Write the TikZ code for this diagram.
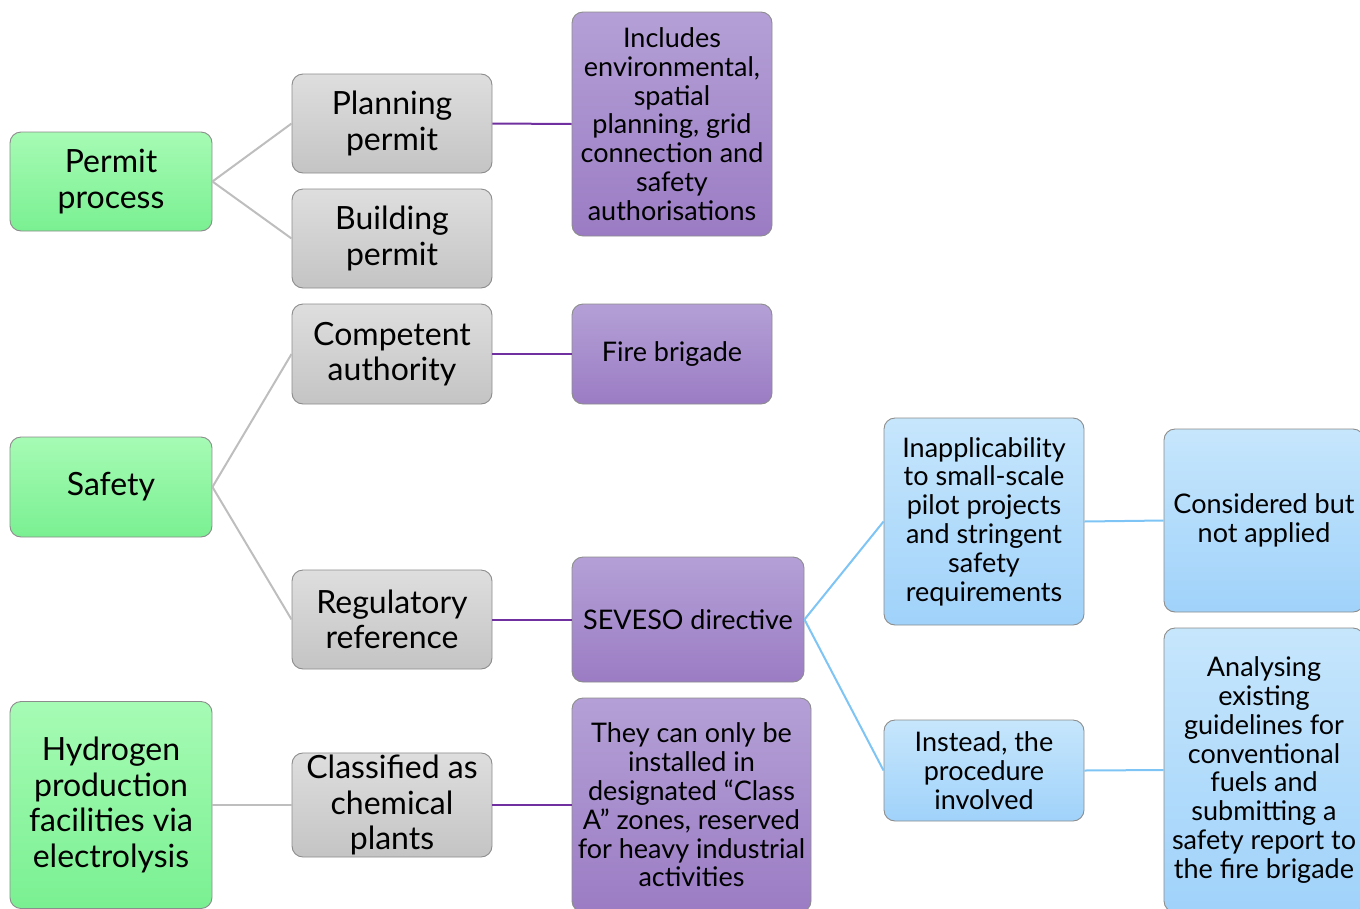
\documentclass[tikz,border=0pt]{standalone}
\usepackage{fontspec}
\setmainfont{Lato}
\definecolor{grnT}{RGB}{166,251,180}
\definecolor{grnB}{RGB}{122,240,146}
\definecolor{gryT}{RGB}{222,222,222}
\definecolor{gryB}{RGB}{196,196,196}
\definecolor{purT}{RGB}{180,160,214}
\definecolor{purB}{RGB}{155,124,196}
\definecolor{bluT}{RGB}{198,230,252}
\definecolor{bluB}{RGB}{160,210,250}
\definecolor{edge}{RGB}{140,140,140}
\definecolor{lnGray}{RGB}{190,190,190}
\definecolor{lnPur}{RGB}{112,48,160}
\definecolor{lnBlu}{RGB}{126,196,244}
\tikzset{
  box/.style={rounded corners=11pt, draw=edge, line width=0.9pt, align=center,
    inner sep=2pt, text=black},
  lvA/.style={box, top color=grnT, bottom color=grnB, font=\fontsize{32}{35.5}\selectfont},
  lvB/.style={box, top color=gryT, bottom color=gryB, font=\fontsize{32}{35.5}\selectfont},
  lvC/.style={box, top color=purT, bottom color=purB, font=\fontsize{27}{28.8}\selectfont},
  lvD/.style={box, top color=bluT, bottom color=bluB, font=\fontsize{27}{28.8}\selectfont},
  cGray/.style={draw=lnGray, line width=2pt},
  cPur/.style={draw=lnPur, line width=2pt},
  cBlu/.style={draw=lnBlu, line width=2pt},
}
\begin{document}
\begin{tikzpicture}[x=1pt,y=-1pt]
\useasboundingbox (0,0) rectangle (1360,908);
% first level
\node[lvA, minimum width=202, minimum height=99] (permit) at (111,181.5) {Permit\\process};
\node[lvA, minimum width=202, minimum height=100] (safety) at (111,487) {Safety};
\node[lvA, minimum width=202, minimum height=207] (hydro) at (111,805) {Hydrogen\\production\\facilities via\\electrolysis};
% second level
\node[lvB, minimum width=200, minimum height=99] (planning) at (392,123.5) {Planning\\permit};
\node[lvB, minimum width=200, minimum height=99] (building) at (392,238.5) {Building\\permit};
\node[lvB, minimum width=200, minimum height=100] (competent) at (392,354) {Competent\\authority};
\node[lvB, minimum width=200, minimum height=99] (regulatory) at (392,619.5) {Regulatory\\reference};
\node[lvB, minimum width=200, minimum height=102] (classified) at (392,805) {Classified as\\chemical\\plants};
% third level
\node[lvC, minimum width=200, minimum height=224] (includes) at (672,124) {Includes\\environmental,\\spatial\\planning, grid\\connection and\\safety\\authorisations};
\node[lvC, minimum width=200, minimum height=100] (fire) at (672,354) {Fire brigade};
\node[lvC, minimum width=232, minimum height=125] (seveso) at (688,619.5) {SEVESO directive};
\node[lvC, minimum width=239, minimum height=214] (classA) at (691.5,805) {They can only be\\installed in\\designated “Class\\A” zones, reserved\\for heavy industrial\\activities};
% fourth level
\node[lvD, minimum width=200, minimum height=207] (inappl) at (984,521.5) {Inapplicability\\to small-scale\\pilot projects\\and stringent\\safety\\requirements};
\node[lvD, minimum width=200, minimum height=101] (instead) at (984,770.5) {Instead, the\\procedure\\involved};
% fifth level
\node[lvD, minimum width=200, minimum height=183] (considered) at (1264,520.5) {Considered but\\not applied};
\node[lvD, minimum width=200, minimum height=284] (analysing) at (1264,770) {Analysing\\existing\\guidelines for\\conventional\\fuels and\\submitting a\\safety report to\\the fire brigade};
% connectors
\draw[cGray] (permit.east) -- (planning.west);
\draw[cGray] (permit.east) -- (building.west);
\draw[cGray] (safety.east) -- (competent.west);
\draw[cGray] (safety.east) -- (regulatory.west);
\draw[cGray] (hydro.east) -- (classified.west);
\draw[cPur] (planning.east) -- (includes.west);
\draw[cPur] (competent.east) -- (fire.west);
\draw[cPur] (regulatory.east) -- (seveso.west);
\draw[cPur] (classified.east) -- (classA.west);
\draw[cBlu] (seveso.east) -- (inappl.west);
\draw[cBlu] (seveso.east) -- (instead.west);
\draw[cBlu] (inappl.east) -- (considered.west);
\draw[cBlu] (instead.east) -- (analysing.west);
\end{tikzpicture}
\end{document}
